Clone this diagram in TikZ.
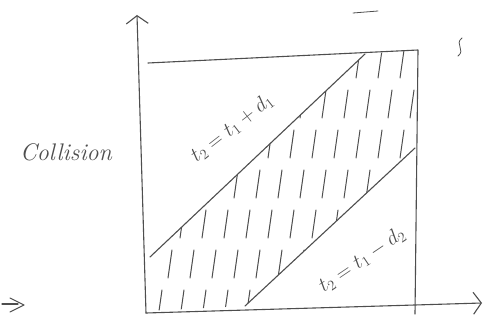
\documentclass[tikz,border=0pt]{standalone}
\usepackage{amsmath,amssymb}
\usetikzlibrary{arrows.meta}
\definecolor{pencil}{RGB}{78,78,78}
\tikzset{
  pen/.style={draw=pencil, line width=1.1pt, line cap=round, line join=round},
  hatch/.style={draw=pencil, line width=1pt, line cap=round},
  axistip/.style={-{Straight Barb[length=8pt,width=22pt]}},
  hand/.style={text=pencil, inner sep=1pt}
}

\begin{document}
\begin{tikzpicture}[x=1pt,y=-1pt]
\useasboundingbox[fill=white] (0,0) rectangle (484,323);

% Corners of the square
\coordinate (bl) at (147,311);
\coordinate (tl) at (148,63);
\coordinate (tr) at (418,50);
\coordinate (br) at (415,314);
% Axis ends
\coordinate (ybot) at (146,313);
\coordinate (ytop) at (137,15);
\coordinate (xend) at (482,303);
% Edges of the band
\coordinate (ua) at (150,257);
\coordinate (ub) at (365,54);
\coordinate (la) at (245,306);
\coordinate (lb) at (415,148);

% Axes
\draw[pen, axistip] (ybot) -- (ytop);
\draw[pen, axistip] (ybot) -- (xend);

% Square
\draw[pen] (tl) -- (tr) -- (br);

% Lines t2 = t1 + d1 and t2 = t1 - d2
\draw[pen] (ua) -- (ub);
\draw[pen] (la) -- (lb);

% Hatching of the band
\begin{scope}
  \clip (ua) -- (ub) -- (tr) -- (lb) -- (la) -- (bl) -- cycle;
  \foreach \r in {0,...,6} {
    \foreach \c in {0,...,12} {
      \draw[hatch] ({158+22*\c+10*mod(\r,2)}, {78+40*\r}) -- ++(4,-28);
    }
  }
\end{scope}

% Labels
\node[hand, rotate=38, font=\fontsize{21}{24}\selectfont] (upper) at (232,128) {$t_2=t_1+d_1$};
\node[hand, rotate=34, font=\fontsize{21}{24}\selectfont] (lower) at (362,260) {$t_2=t_1-d_2$};
\node[hand, font=\fontsize{24}{28}\selectfont\itshape] (coll) at (66,152) {Collision};

% Stray marks
\draw[pen] (2,304) -- (18,304);
\draw[pen] (10,298) -- (24,305) -- (10,312);
\draw[pen, line width=0.8pt] (353,13) -- (378,11);
\draw[pen, line width=0.8pt] (462,38) .. controls (454,44) and (466,50) .. (458,56);

\end{tikzpicture}
\end{document}
